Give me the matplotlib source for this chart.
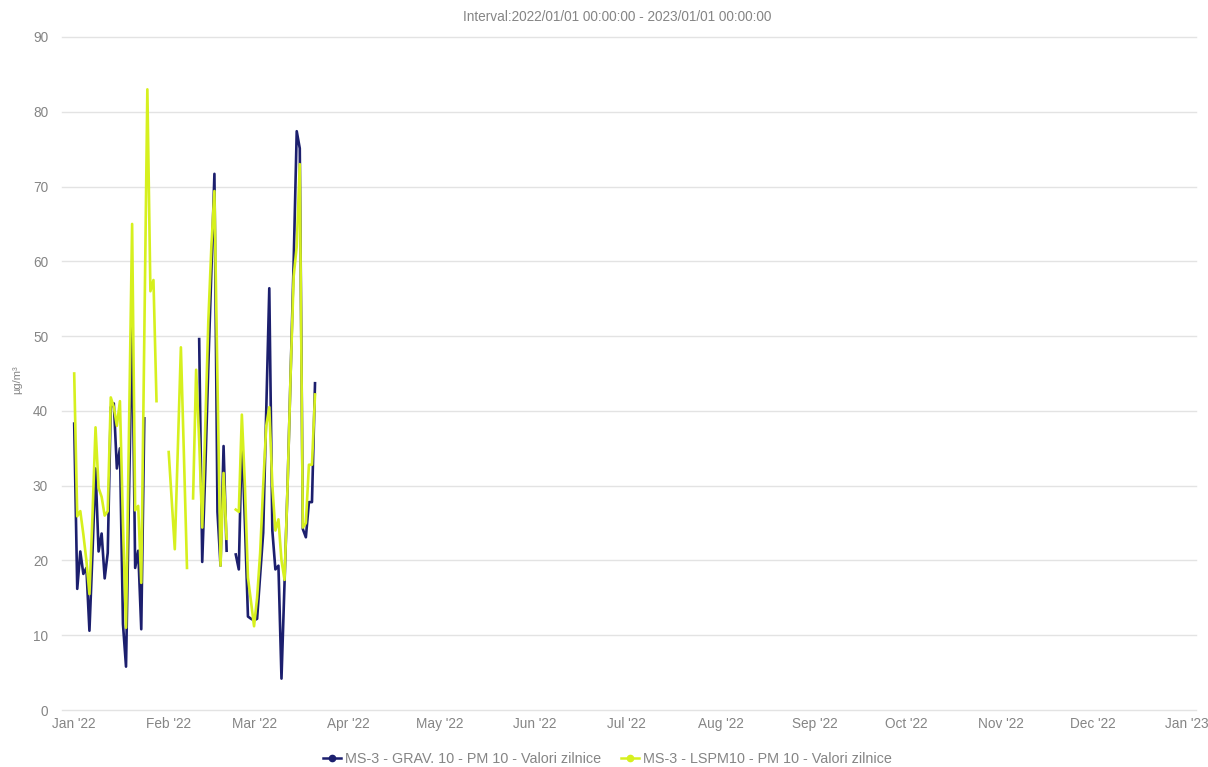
import numpy as np
import pandas as pd
import matplotlib
matplotlib.use("Agg")
import matplotlib.pyplot as plt
from matplotlib.lines import Line2D

plt.rcParams['font.family'] = ['Liberation Sans', 'DejaVu Sans']

# Daily PM10 values (µg/m³), 2022-01-01 .. 2022-03-21; None = no measurement
days = pd.date_range("2022-01-01", periods=80, freq="D")

grav = [38.3, 16.2, 21.2, 18.2, 19.0, 10.6, 21.0, 32.3, 21.2, 23.6,
        17.6, 21.0, 40.5, 41.0, 32.3, 35.0, 11.5, 5.8, 29.0, 52.5,
        19.0, 21.3, 10.8, 39.0, None, None, None, None, None, None,
        None, None, None, None, None, None, None, None, None, None,
        None, 49.6, 19.8, 32.0, 46.0, 58.7, 71.7, 26.5, 19.3, 35.3,
        21.3, None, None, 20.8, 18.8, 37.0, 25.0, 12.5, 12.2, 12.0,
        12.2, 18.0, 23.7, 40.0, 56.4, 24.0, 18.8, 19.3, 4.2, 17.0,
        30.0, 45.0, 60.0, 77.4, 75.1, 24.2, 23.1, 27.8, 27.8, 43.7]

lspm = [45.0, 25.9, 26.6, 23.5, 20.0, 15.5, 26.0, 37.8, 29.7, 28.5,
        26.0, 26.6, 41.8, 40.5, 38.0, 41.3, 25.0, 11.0, 38.0, 65.0,
        26.7, 27.3, 17.0, 50.0, 83.0, 56.0, 57.5, 41.3, None, None,
        None, 34.5, 28.0, 21.5, 35.0, 48.5, 34.0, 19.0, None, 28.3,
        45.5, 36.0, 24.4, 38.0, 52.0, 62.0, 69.4, 44.0, 19.3, 31.7,
        22.9, None, None, 26.8, 26.5, 39.5, 30.0, 17.7, 14.5, 11.2,
        15.0, 21.0, 30.0, 38.0, 40.5, 30.0, 24.0, 25.5, 20.0, 17.4,
        30.0, 45.0, 58.0, 62.0, 73.0, 24.4, 25.0, 32.8, 32.8, 42.2]

series_names = ["MS-3 - GRAV. 10 - PM 10 - Valori zilnice",
                "MS-3 - LSPM10 - PM 10 - Valori zilnice"]
series_colors = ["#1c1f6e", "#d6f01e"]

tick_dates = pd.date_range("2022-01-01", "2023-01-01", freq="MS")
tick_labels = [d.strftime("%b '%y") for d in tick_dates]

title = "Interval:2022/01/01 00:00:00 - 2023/01/01 00:00:00"
y_label = "µg/m³"

TEXT = "#858585"
W, H = 1208, 767
fig = plt.figure(figsize=(W / 100, H / 100), dpi=100)
ax = fig.add_axes([62 / W, 1 - 710 / H, (1196 - 62) / W, (710 - 37) / H])

def to_arr(vals):
    return np.array([np.nan if v is None else v for v in vals], dtype=float)

ax.plot(days, to_arr(grav), color=series_colors[0], lw=1.9, zorder=3,
        solid_joinstyle="round")
ax.plot(days, to_arr(lspm), color=series_colors[1], lw=1.9, zorder=4,
        solid_joinstyle="round")

ax.set_ylim(0, 90)
ax.set_yticks(np.arange(0, 91, 10))
ax.set_xlim(pd.Timestamp("2021-12-28"), pd.Timestamp("2023-01-04"))
ax.set_xticks(tick_dates)
ax.set_xticklabels(tick_labels)

ax.grid(axis="y", color="#e3e3e3", lw=1.0)
for gl in ax.get_ygridlines():
    gl.set_clip_on(False)
ax.set_axisbelow(True)
for s in ax.spines.values():
    s.set_visible(False)
ax.tick_params(axis="both", length=0, colors=TEXT, labelsize=9.8)
ax.tick_params(axis="y", pad=10)
ax.tick_params(axis="x", pad=5)

fig.text(0.511, 1 - 17 / H, title, ha="center", va="center",
         fontsize=9.8, color=TEXT)
fig.text(17 / W, 1 - 380 / H, y_label, ha="center", va="center",
         rotation=90, fontsize=8, color=TEXT)

handles = [Line2D([0], [0], color=c, lw=1.8, marker="o", markersize=4.5)
           for c in series_colors]
leg = fig.legend(handles, series_names, loc="center", ncol=2,
                 bbox_to_anchor=(0.503, 1 - 759 / H), frameon=False,
                 fontsize=10.4, handlelength=1.2, handletextpad=0.3,
                 columnspacing=1.4)
for t in leg.get_texts():
    t.set_color(TEXT)

fig.savefig("out.png", dpi=100, facecolor="white")
